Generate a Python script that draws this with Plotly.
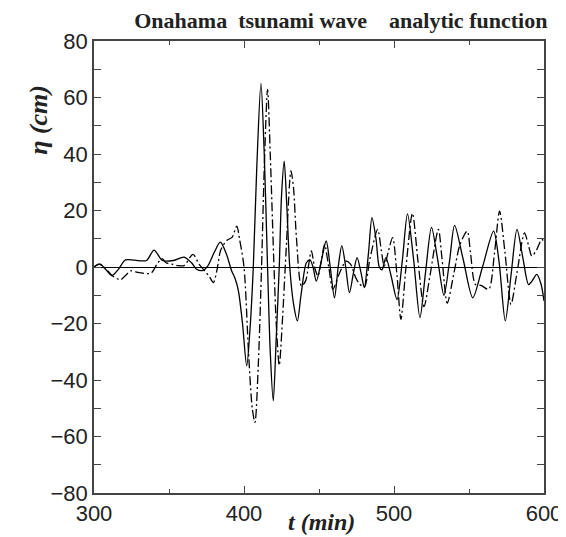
import plotly.graph_objects as go

# Solid curve (tsunami wave record)
t_solid = [300, 304, 308, 312, 316, 321, 327, 335, 340, 345.6, 353, 360, 365, 368.4, 372.8, 376, 380, 384.2, 388,
           391.8, 394, 396.3, 399, 401.8, 404, 406.2, 408.5, 411.3, 413.5, 415.7, 417.5, 419.5, 421.5, 423.5, 425,
           426.8, 428.5, 430.5, 433, 435.6, 438, 441.6, 444, 446, 448.2, 451.5, 454.8, 457.5, 460.3, 462.8, 465.2,
           467.8, 470.3, 473, 475.4, 478, 480.2, 483, 485.3, 488, 490.2, 492, 494.6, 498, 502, 505.5, 509, 513,
           517.3, 521, 525, 529, 533.3, 537, 540.4, 546, 552.5, 559, 566.4, 570, 574.2, 578, 582, 586, 589.7, 592,
           595.2, 598, 600]
eta_solid = [0, 1, -1, -3, -1, 2.5, 2.4, 2.3, 6.0, 2.3, 2.3, 3.5, 1.5, -0.8, -1.2, 0.5, 5, 8.8, 5,
             -1.4, -4, -8.5, -20, -35, -22, 0, 35, 65, 40, 0, -30, -47.4, -25, 0, 25,
             37.5, 22, 0, -13, -19.1, -10, 1.5, 2.5, 0, -5, 2, 9.2, 0, -10.9, 0, 7.6,
             0, -9.1, -2, 3.3, -2, -7.3, 5, 17.5, 10, 0, -1, 3.3, -3, -11.5, 2, 18.8, 3,
             -17.9, -2, 14, 3, -10, 2, 14.7, 3, -10.9, 0, 12.7, 2, -19.1, -3, 13.3, 3, -6.2, -5,
             -2.6, -6, -12]

# Dash-dot curve (analytic function)
t_dash = [300, 303, 307, 312, 317.7, 321, 324.5, 330, 338, 341.9, 345.4, 348, 352, 356, 360, 366, 370, 374, 377,
          379.6, 382, 384.5, 388.5, 392, 395.2, 397, 400, 403, 405.5, 407.3, 409.5, 411.7, 413.5, 415.7, 417.5,
          420, 421.5, 423.5, 425.5, 428, 431.3, 433, 435, 438.3, 441, 444.9, 447, 449.3, 451.5, 453.7, 456.5,
          459.3, 463, 468.1, 471, 474.5, 477, 480.2, 484, 489.1, 491.5, 493.5, 496, 499.1, 502, 504.6, 508,
          512.3, 516, 520, 524, 529.6, 532, 535.5, 540, 544, 548.8, 551, 554.3, 558, 563.1, 567, 570.4, 574,
          578, 582, 587, 589.5, 591.9, 595, 598.5, 600]
eta_dash = [0, 1, 0, -3, -4.5, -3, -1.4, -2, -2.2, 0.9, 3, 1.5, 1, 0.5, 0.5, 4.5, 1, -1.5, -3.5,
            -5.5, -1, 6, 9.4, 10.5, 14.5, 10, 0, -30, -50, -55, -35, 0, 35, 62.9, 40,
            0, -20, -34.8, -20, 5, 34, 28, 10, -6.7, -5, 5.7, 0, -3.2, 2, 8, 0,
            -7.9, -3, 2.1, 1, -3.8, -6, -7.1, 3, 13.3, 6, 0.3, 5, 10.4, -3, -18.5, 0,
            19, 2, -14, -3, 13.3, 3, -12.8, -2, 8, 12.7, 5, -6.2, -6.5, -7.9, 5, 19.8, 5,
            -13.2, -2, 12.1, 8, 3.9, 6, 9.8, 9]

x_ticks = [300, 400, 500, 600]
y_ticks = [-80, -60, -40, -20, 0, 20, 40, 60, 80]

title_text = "Onahama\u00a0\u00a0tsunami wave\u00a0\u00a0\u00a0\u00a0analytic function"

fig = go.Figure()
fig.add_trace(go.Scatter(x=t_solid, y=eta_solid, mode="lines",
                         line=dict(color="black", width=1.3, shape="spline", smoothing=0.8),
                         showlegend=False))
fig.add_trace(go.Scatter(x=t_dash, y=eta_dash, mode="lines",
                         line=dict(color="black", width=1.3, shape="spline", smoothing=0.8,
                                   dash="9px,3px,2px,3px"),
                         showlegend=False))

axis_common = dict(showline=True, linecolor="#444", linewidth=1.5, mirror="allticks",
                   ticks="inside", tickcolor="#444", showgrid=False,
                   tickfont=dict(family="Liberation Sans, Arial", size=22, color="#222"))

fig.update_xaxes(range=[300, 600], tickvals=x_ticks, ticklen=7, tickwidth=1.2,
                 minor=dict(dtick=50, ticklen=4, ticks="inside", tickcolor="#444", tickwidth=1.2),
                 zeroline=False, **axis_common)
fig.update_yaxes(range=[-80, 80], tickvals=y_ticks, ticklen=7, tickwidth=1.2,
                 minor=dict(dtick=10, ticklen=7, ticks="inside", tickcolor="#444", tickwidth=1.2),
                 zeroline=True, zerolinecolor="black", zerolinewidth=1.3, **axis_common)

fig.update_layout(
    width=566, height=537,
    margin=dict(l=86, r=27, t=33, b=52),
    plot_bgcolor="white", paper_bgcolor="white",
    title=dict(text="<b>" + title_text + "</b>", x=0.588, xanchor="center", y=0.977, yanchor="middle",
               xref="container", yref="container",
               font=dict(family="Liberation Serif, Times New Roman", size=22, color="#222")),
    annotations=[
        dict(text="<b><i>t (min)</i></b>", xref="paper", yref="paper", x=0.506, y=-0.064,
             showarrow=False, xanchor="center", yanchor="middle",
             font=dict(family="Liberation Serif, Times New Roman", size=24, color="#222")),
        dict(text="<b><i>\u03b7 (cm)</i></b>", xref="paper", yref="paper", x=-0.125, y=0.825,
             showarrow=False, xanchor="center", yanchor="middle", textangle=-90,
             font=dict(family="Liberation Serif, Times New Roman", size=26, color="#222")),
    ],
)

fig.write_html("out.html")
